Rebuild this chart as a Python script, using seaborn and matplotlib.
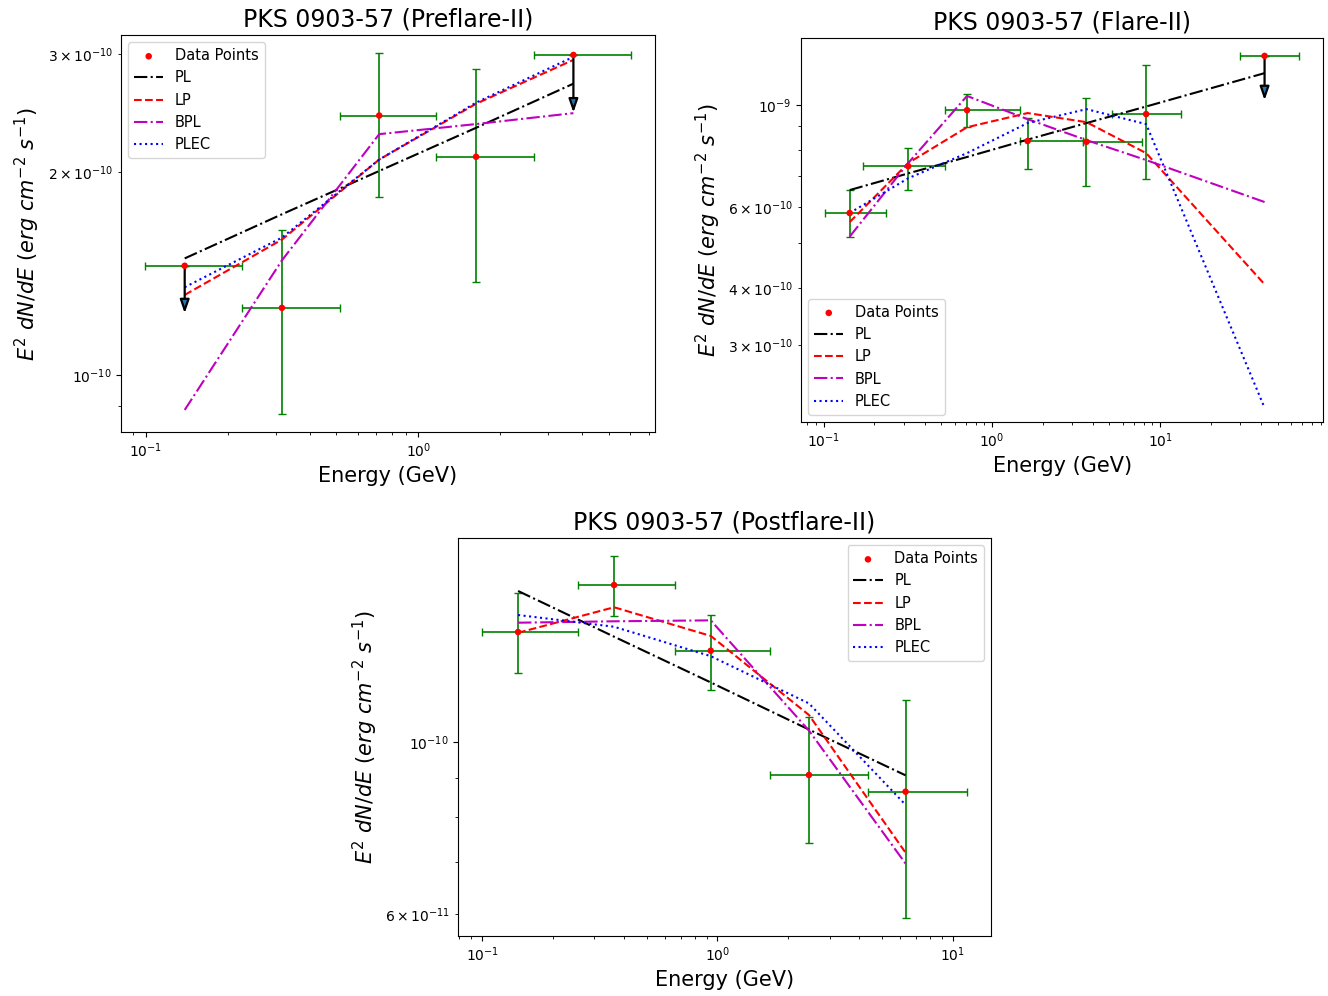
import numpy as np
import pandas as pd
import matplotlib
matplotlib.use("Agg")
import matplotlib.pyplot as plt
import seaborn as sns

# ---------------- Preflare-II ----------------
pre_E = [0.139, 0.316, 0.719, 1.63, 3.71]
pre_Elo = [0.0996, 0.225, 0.516, 1.164, 2.67]
pre_Ehi = [0.225, 0.516, 1.164, 2.67, 6.02]
pre_F = [1.453e-10, 1.258e-10, 2.43e-10, 2.11e-10, 2.99e-10]
pre_Flo = [1.453e-10, 8.75e-11, 1.84e-10, 1.375e-10, 2.99e-10]
pre_Fhi = [1.453e-10, 1.643e-10, 3.01e-10, 2.85e-10, 2.99e-10]
pre_UL = [True, False, False, False, True]
pre_ULtip = [1.235e-10, None, None, None, 2.455e-10]
pre_PL = [1.49e-10, 1.733e-10, 2.01e-10, 2.33e-10, 2.71e-10]
pre_LP = [1.315e-10, 1.589e-10, 2.09e-10, 2.53e-10, 2.94e-10]
pre_BPL = [8.87e-11, 1.48e-10, 2.28e-10, 2.36e-10, 2.45e-10]
pre_PLEC = [1.35e-10, 1.60e-10, 2.09e-10, 2.54e-10, 2.97e-10]

# ---------------- Flare-II ----------------
fl_E = [0.1426, 0.318, 0.711, 1.63, 3.65, 8.26, 41.8]
fl_Elo = [0.1014, 0.170, 0.527, 1.46, 3.50, 5.2, 29.7]
fl_Ehi = [0.233, 0.527, 1.46, 3.50, 7.82, 13.3, 67.3]
fl_F = [5.82e-10, 7.36e-10, 9.75e-10, 8.35e-10, 8.32e-10, 9.56e-10, 1.28e-9]
fl_Flo = [5.16e-10, 6.53e-10, 8.96e-10, 7.26e-10, 6.67e-10, 6.90e-10, 1.28e-9]
fl_Fhi = [6.53e-10, 8.06e-10, 1.06e-9, 9.37e-10, 1.035e-9, 1.22e-9, 1.28e-9]
fl_UL = [False, False, False, False, False, False, True]
fl_ULtip = [None, None, None, None, None, None, 1.025e-9]
fl_PL = [6.53e-10, 7.10e-10, 7.71e-10, 8.41e-10, 9.14e-10, 9.93e-10, 1.174e-9]
fl_LP = [5.56e-10, 7.48e-10, 8.95e-10, 9.61e-10, 9.18e-10, 7.86e-10, 4.07e-10]
fl_BPL = [5.17e-10, 7.48e-10, 1.047e-9, 9.32e-10, 8.39e-10, 7.59e-10, 6.15e-10]
fl_PLEC = [5.82e-10, 6.93e-10, 7.86e-10, 9.14e-10, 9.80e-10, 9.09e-10, 2.19e-10]

# ---------------- Postflare-II ----------------
po_E = [0.142, 0.3635, 0.937, 2.45, 6.31]
po_Elo = [0.100, 0.256, 0.661, 1.68, 4.35]
po_Ehi = [0.256, 0.661, 1.68, 4.35, 11.5]
po_F = [1.387e-10, 1.595e-10, 1.312e-10, 9.07e-11, 8.63e-11]
po_Flo = [1.228e-10, 1.455e-10, 1.166e-10, 7.40e-11, 5.93e-11]
po_Fhi = [1.556e-10, 1.738e-10, 1.459e-10, 1.076e-10, 1.133e-10]
po_UL = [False, False, False, False, False]
po_ULtip = [None, None, None, None, None]
po_PL = [1.567e-10, 1.368e-10, 1.194e-10, 1.038e-10, 9.06e-11]
po_LP = [1.384e-10, 1.493e-10, 1.371e-10, 1.084e-10, 7.20e-11]
po_BPL = [1.426e-10, 1.432e-10, 1.436e-10, 1.035e-10, 6.97e-11]
po_PLEC = [1.459e-10, 1.409e-10, 1.291e-10, 1.122e-10, 8.30e-11]

titles = ["PKS 0903-57 (Preflare-II)", "PKS 0903-57 (Flare-II)", "PKS 0903-57 (Postflare-II)"]
model_names = ["PL", "LP", "BPL", "PLEC"]

sns.set_style("ticks", {"axes.edgecolor": "black", "xtick.color": "black", "ytick.color": "black",
                        "axes.labelcolor": "black", "text.color": "black"})
plt.rcParams["font.family"] = ["DejaVu Sans"]
plt.rcParams["font.size"] = 10
plt.rcParams["xtick.direction"] = "out"
plt.rcParams["ytick.direction"] = "out"

fig = plt.figure(figsize=(13.28, 9.96), dpi=100)
ax1 = fig.add_axes([0.0911, 0.5663, 0.4021, 0.3986])
ax2 = fig.add_axes([0.6032, 0.5763, 0.3931, 0.3855])
ax3 = fig.add_axes([0.3449, 0.0602, 0.4014, 0.3996])

styles = {"PL": ("black", "-."), "LP": ("red", "--"), "BPL": ("m", "-."), "PLEC": ("blue", ":")}

panels = [
    (ax1, pre_E, pre_Elo, pre_Ehi, pre_F, pre_Flo, pre_Fhi, pre_UL, pre_ULtip,
     [pre_PL, pre_LP, pre_BPL, pre_PLEC], "upper left", None),
    (ax2, fl_E, fl_Elo, fl_Ehi, fl_F, fl_Flo, fl_Fhi, fl_UL, fl_ULtip,
     [fl_PL, fl_LP, fl_BPL, fl_PLEC], "lower left", (2.04e-10, 1.40e-9)),
    (ax3, po_E, po_Elo, po_Ehi, po_F, po_Flo, po_Fhi, po_UL, po_ULtip,
     [po_PL, po_LP, po_BPL, po_PLEC], "upper right", None),
]

for (ax, E, Elo, Ehi, F, Flo, Fhi, UL, ULtip, models, loc, ylim), title in zip(panels, titles):
    E = np.array(E); F = np.array(F)
    xerr = [E - np.array(Elo), np.array(Ehi) - E]
    yerr = [F - np.array(Flo), np.array(Fhi) - F]
    ax.set_xscale("log")
    ax.set_yscale("log")
    ax.errorbar(E, F, xerr=xerr, yerr=yerr, fmt="none", ecolor="green", elinewidth=1.2, capsize=3, zorder=2)
    df = pd.DataFrame({"E": E, "F": F})
    sns.scatterplot(data=df, x="E", y="F", ax=ax, color="red", s=22, edgecolor="none",
                    label="Data Points", zorder=5)
    for name, vals in zip(model_names, models):
        c, ls = styles[name]
        mdf = pd.DataFrame({"E": E, "F": vals})
        sns.lineplot(data=mdf, x="E", y="F", ax=ax, color=c, linestyle=ls, linewidth=1.5,
                     label=name, sort=False, estimator=None, zorder=3)
    for e, f, u, tip in zip(E, F, UL, ULtip):
        if u:
            ax.annotate("", xy=(e, tip), xytext=(e, f),
                        arrowprops=dict(arrowstyle="-|>,head_width=0.28,head_length=0.8",
                                        fc="#1f77b4", ec="black", lw=1.6, shrinkA=0, shrinkB=0),
                        zorder=4)
    if ylim is not None:
        ax.set_ylim(*ylim)
    ax.set_title(title, fontsize=17)
    ax.set_xlabel("Energy (GeV)", fontsize=15)
    ax.set_ylabel(r"$E^2\ dN/dE\ (erg\ cm^{-2}\ s^{-1})$", fontsize=15)
    ax.legend(loc=loc, fontsize=10.5, frameon=True)

fig.savefig("out.png", dpi=100)
